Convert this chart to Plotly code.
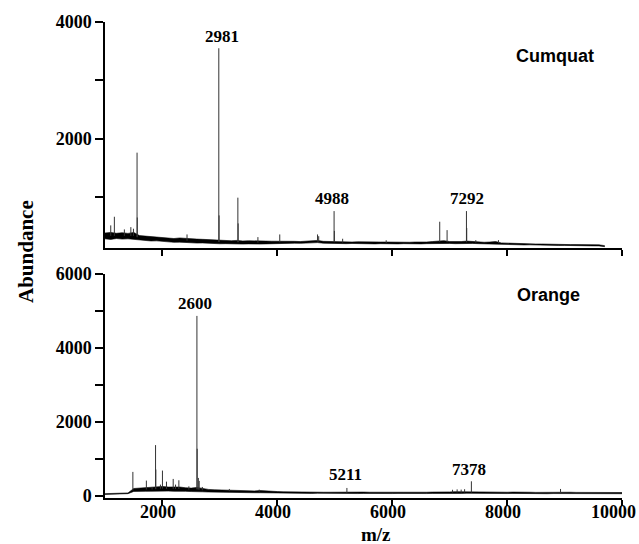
import numpy as np
import plotly.graph_objects as go
from plotly.subplots import make_subplots

# ---------------- data ----------------
# Panel (a) Cumquat: noisy baseline envelope (low / high edge of the noise band)
cq_base_mz = list(range(1000, 9800, 100))
cq_base_lo = [285, 275, 290, 280, 285, 275, 255, 250, 248, 250,
              238, 232, 225, 228, 220, 215, 212, 214, 206, 202,
              200, 202, 196, 198, 195, 198, 192, 195, 198, 202,
              206, 210, 206, 210, 207, 210, 214, 220, 210, 206,
              210, 206, 202, 205, 202, 198, 202, 198, 202, 198,
              202, 198, 202, 198, 202, 198, 202, 206, 210, 214,
              206, 202, 206, 210, 206, 202, 198, 198, 202, 192,
              188, 184, 186, 180, 182, 178, 178, 174, 174, 170,
              172, 168, 168, 165, 168, 164, 164, 150]
cq_base_hi = [385, 395, 380, 390, 378, 395, 340, 332, 326, 322,
              310, 296, 290, 300, 290, 284, 280, 276, 270, 274,
              262, 258, 252, 258, 248, 252, 246, 244, 246, 244,
              246, 242, 238, 242, 238, 242, 246, 258, 242, 238,
              246, 238, 234, 230, 234, 230, 230, 226, 230, 230,
              226, 230, 230, 226, 230, 226, 230, 238, 250, 254,
              238, 234, 238, 246, 238, 230, 226, 230, 238, 215,
              210, 206, 206, 200, 200, 196, 196, 192, 196, 190,
              190, 186, 186, 186, 186, 182, 182, 168]
# Panel (a) peaks (m/z, abundance)
cq_peak_mz = [1100, 1163, 1337, 1450, 1495, 1558, 1562, 2428, 2981, 2986,
              3313, 3318, 3662, 4042, 4700, 4720, 4988, 4993, 5137, 5895,
              6827, 6955, 7292, 7297, 7455, 7850]
cq_peak_h = [515, 663, 446, 485, 458, 1761, 650, 360, 3550, 686,
             990, 549, 314, 360, 360, 330, 760, 420, 286, 260,
             578, 434, 760, 470, 262, 262]

# Panel (b) Orange: noisy baseline envelope
or_base_mz = list(range(1000, 10100, 100))
or_base_lo = [35, 35, 38, 38, 55, 115, 125, 118, 120, 125,
              130, 125, 120, 125, 118, 112, 118, 105, 100, 95,
              95, 90, 90, 85, 85, 80, 80, 80, 76, 76,
              70, 66, 66, 62, 66, 62, 62, 66, 62, 58,
              62, 62, 58, 62, 58, 62, 58, 58, 62, 58,
              58, 62, 58, 58, 62, 58, 58, 62, 58, 58,
              62, 66, 62, 66, 62, 66, 62, 58, 62, 58,
              58, 62, 58, 58, 62, 58, 58, 54, 58, 58,
              54, 58, 54, 58, 54, 54, 58, 54, 54, 58, 54]
or_base_hi = [55, 55, 58, 58, 75, 195, 205, 215, 210, 235,
              250, 235, 245, 235, 215, 205, 225, 190, 170, 160,
              155, 150, 160, 140, 140, 135, 130, 140, 125, 120,
              112, 106, 102, 98, 102, 98, 94, 98, 94, 94,
              98, 94, 94, 98, 94, 98, 94, 90, 94, 94,
              90, 94, 94, 90, 94, 90, 94, 98, 94, 94,
              102, 110, 106, 110, 106, 102, 98, 94, 98, 94,
              94, 98, 90, 94, 94, 90, 94, 90, 94, 90,
              90, 94, 90, 90, 90, 86, 90, 86, 86, 90, 86]
# Panel (b) peaks (m/z, abundance)
or_peak_mz = [1485, 1720, 1820, 1880, 1885, 1965, 2000, 2070, 2187, 2228,
              2286, 2460, 2600, 2605, 2625, 2640, 2695, 3165, 3685, 5211,
              7050, 7130, 7200, 7260, 7378, 8930]
or_peak_h = [643, 408, 236, 1367, 707, 300, 679, 380, 453, 300,
             417, 253, 4856, 1268, 480, 400, 236, 182, 163, 209,
             160, 170, 165, 175, 389, 182]

x_ticks = [2000, 4000, 6000, 8000, 10000]
cq_y_ticks = [1000, 2000, 3000, 4000]
or_y_ticks = [0, 1000, 2000, 3000, 4000, 5000, 6000]

cq_labels = ["2981", "4988", "7292"]
or_labels = ["2600", "5211", "7378"]

# ---------------- figure ----------------
W, H = 639, 544
ML, MR, MT, MB = 105, 17, 22, 46
fig = make_subplots(rows=2, cols=1, shared_xaxes=False, vertical_spacing=0.055)

SERIF = "Liberation Serif, Times New Roman, serif"
SANS = "Liberation Sans, Arial, sans-serif"


def add_panel(row, bmz, blo, bhi, pmz, ph):
    fig.add_trace(go.Scatter(x=bmz, y=blo, mode="lines",
                             line=dict(color="black", width=0.6),
                             showlegend=False, hoverinfo="skip"), row=row, col=1)
    fig.add_trace(go.Scatter(x=bmz, y=bhi, mode="lines", fill="tonexty",
                             fillcolor="black",
                             line=dict(color="black", width=0.6),
                             showlegend=False, hoverinfo="skip"), row=row, col=1)
    base = np.interp(pmz, bmz, (np.array(blo) + np.array(bhi)) / 2.0)
    xs, ys = [], []
    for m, h, b in zip(pmz, ph, base):
        xs += [m, m, None]
        ys += [b, h, None]
    fig.add_trace(go.Scatter(x=xs, y=ys, mode="lines",
                             line=dict(color="#333333", width=1),
                             showlegend=False, hoverinfo="skip"), row=row, col=1)


add_panel(1, cq_base_mz, cq_base_lo, cq_base_hi, cq_peak_mz, cq_peak_h)
add_panel(2, or_base_mz, or_base_lo, or_base_hi, or_peak_mz, or_peak_h)

axis_common = dict(showline=True, linecolor="black", linewidth=1.5,
                   showgrid=False, zeroline=False, ticks="outside",
                   tickcolor="black", tickwidth=1.5)

fig.update_xaxes(**axis_common, range=[1000, 10000], tickvals=x_ticks,
                 ticklen=6, showticklabels=False)

TICKFONT = dict(family=SERIF, size=18, color="black")
fig.update_yaxes(**axis_common, ticklen=8)
fig.update_yaxes(range=[130, 4000], tickvals=cq_y_ticks,
                 ticktext=["<b>%d</b>" % v if v % 2000 == 0 else "" for v in cq_y_ticks],
                 tickfont=TICKFONT, row=1, col=1)
fig.update_yaxes(range=[-62, 6000], tickvals=or_y_ticks,
                 ticktext=["<b>%d</b>" % v if v % 2000 == 0 else "" for v in or_y_ticks],
                 tickfont=TICKFONT, row=2, col=1)

fig.update_layout(
    xaxis=dict(domain=[0, 1]),
    yaxis=dict(domain=[0.5255, 1.0]),
    yaxis2=dict(domain=[0.0, 0.4715]),
)

ann = []
def lab(text, x, y, xref, yref, size, family, **kw):
    d = dict(text=text, x=x, y=y, xref=xref, yref=yref, showarrow=False,
             xanchor="center", yanchor="middle",
             font=dict(family=family, size=size, color="black"))
    d.update(kw)
    ann.append(d)

PW = W - ML - MR
PH = H - MT - MB
def px(xp):
    return (xp - ML) / PW
def py(yp):
    return (H - MB - yp) / PH

# x tick labels of the lower panel
for i, v in enumerate(x_ticks):
    lab("<b>%d</b>" % v, v, py(512), "x2", "paper", 18, SERIF,
        xshift=-4 if i < len(x_ticks) - 1 else -9)

# peak labels panel (a)
lab("<b>%s</b>" % cq_labels[0], 3028, 3756, "x", "y", 17, SERIF)
lab("<b>%s</b>" % cq_labels[1], 4951, 978, "x", "y", 17, SERIF)
lab("<b>%s</b>" % cq_labels[2], 7294, 978, "x", "y", 17, SERIF)
lab("<b>Cumquat</b>", 8832, 3413, "x", "y", 18, SANS)
lab("<b>(a)</b>", 1262, 4048, "x", "y", 14, SERIF)
# panel (b)
lab("<b>%s</b>" % or_labels[0], 2573, 5190, "x2", "y2", 17, SERIF)
lab("<b>%s</b>" % or_labels[1], 5178, 571, "x2", "y2", 17, SERIF)
lab("<b>%s</b>" % or_labels[2], 7329, 707, "x2", "y2", 17, SERIF)
lab("<b>Orange</b>", 8727, 5408, "x2", "y2", 18, SANS)
lab("<b>(b)</b>", 1280, 6223, "x2", "y2", 14, SERIF)

lab("<b>Abundance</b>", px(26), py(252), "paper", "paper", 21, SERIF, textangle=-90)
lab("<b>m/z</b>", px(376), py(534), "paper", "paper", 19, SERIF)

fig.update_layout(
    annotations=ann,
    width=W, height=H,
    margin=dict(l=ML, r=MR, t=MT, b=MB),
    paper_bgcolor="white", plot_bgcolor="white",
    showlegend=False,
)

fig.write_html("out.html")
